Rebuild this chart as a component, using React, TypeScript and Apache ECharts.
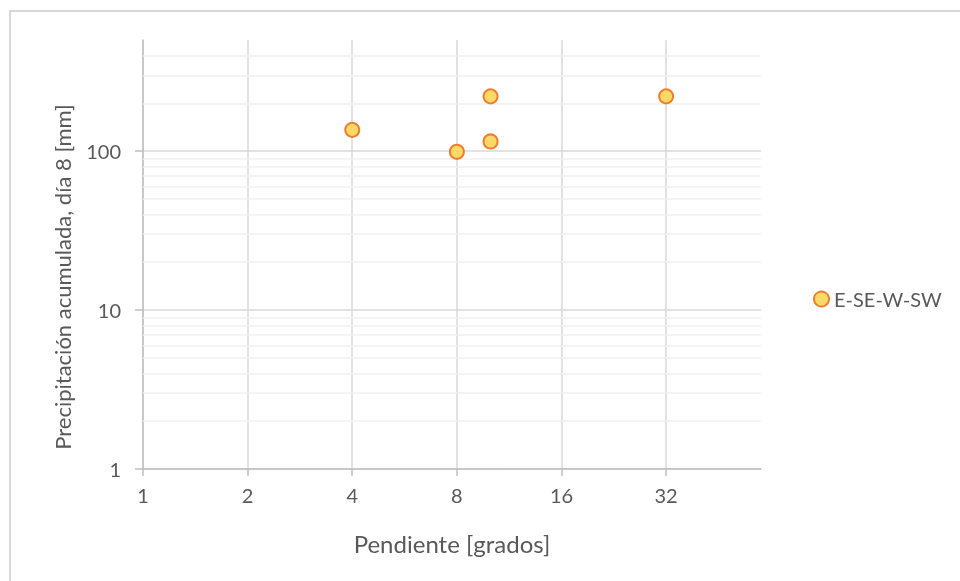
import React, { useEffect, useRef } from "react";
import * as echarts from "echarts";

const seriesName = "E-SE-W-SW";
const slopes = [4, 8, 10, 10, 32];
const precip = [136, 99, 221, 115, 221];
const xTickValues = [1, 2, 4, 8, 16, 32];
const yTickValues = [1, 10, 100];
const minorY = [2, 3, 4, 5, 6, 7, 8, 9, 20, 30, 40, 50, 60, 70, 80, 90, 200, 300, 400];
const xTitle = "Pendiente [grados]";
const yTitle = "Precipitación acumulada, día 8 [mm]";

const FONT = "Lato";
const TXT = "#595959";

export default function App() {
  const ref = useRef<HTMLDivElement>(null);
  useEffect(() => {
    const chart = echarts.init(ref.current!, null, { renderer: "svg" });
    chart.setOption({
      animation: false,
      textStyle: { fontFamily: FONT },
      grid: { left: 143, right: 199, top: 40, bottom: 112 },
      legend: {
        data: [seriesName],
        left: 808,
        top: 284,
        itemWidth: 15,
        itemHeight: 15,
        itemGap: 6,
        textStyle: { fontSize: 20, color: TXT, fontFamily: FONT },
      },
      xAxis: {
        type: "log",
        logBase: 2,
        min: 1,
        max: 60,
        name: xTitle,
        nameLocation: "middle",
        nameGap: 62,
        nameTextStyle: { fontSize: 24, color: TXT, fontFamily: FONT },
        axisLine: { show: true, onZero: false, lineStyle: { color: "#BFBFBF", width: 1.5 } },
        axisTick: { show: true, length: 7, customValues: xTickValues, lineStyle: { color: "#BFBFBF", width: 1.5 } },
        axisLabel: {
          fontSize: 20,
          color: TXT,
          margin: 16,
          fontFamily: FONT,
          customValues: xTickValues,
          formatter: (v: number) => String(Math.round(v)),
        },
        splitLine: { show: true, lineStyle: { color: "#D9D9D9", width: 1.5 } },
      },
      yAxis: {
        type: "log",
        logBase: 10,
        min: 1,
        max: 500,
        axisLine: { show: true, onZero: false, lineStyle: { color: "#BFBFBF", width: 1.5 } },
        axisTick: { show: true, length: 8, customValues: yTickValues, lineStyle: { color: "#BFBFBF", width: 1.5 } },
        axisLabel: {
          fontSize: 20,
          color: TXT,
          margin: 22,
          fontFamily: FONT,
          customValues: yTickValues,
          formatter: (v: number) => String(Math.round(v)),
        },
        splitLine: { show: true, lineStyle: { color: "#D9D9D9", width: 1.5 } },
      },
      graphic: [
        {
          type: "rect",
          silent: true,
          shape: { x: 10, y: 11, width: 1000, height: 1000 },
          style: { fill: "none", stroke: "#D9D9D9", lineWidth: 2 },
        },
        {
          type: "text",
          x: 62,
          y: 277,
          rotation: Math.PI / 2,
          silent: true,
          style: {
            text: yTitle,
            fontSize: 22,
            fill: TXT,
            fontFamily: FONT,
            align: "center",
            verticalAlign: "middle",
          },
        },
      ],
      series: [
        {
          type: "scatter",
          z: 1,
          data: [],
          silent: true,
          markLine: {
            silent: true,
            z: 1,
            symbol: ["none", "none"],
            label: { show: false },
            lineStyle: { color: "#F0F0F0", type: "solid", width: 1.5 },
            data: minorY.map((v) => ({ yAxis: v })),
          },
        },
        {
          name: seriesName,
          type: "scatter",
          z: 5,
          symbol: "circle",
          symbolSize: 14,
          data: slopes.map((x, i) => [x, precip[i]]),
          itemStyle: { color: "#FFD966", borderColor: "#ED7D31", borderWidth: 2, opacity: 1 },
        },
      ],
    });
    return () => chart.dispose();
  }, []);
  return <div ref={ref} style={{ position: "fixed", left: 0, top: 0, width: 960, height: 581 }} />;
}
